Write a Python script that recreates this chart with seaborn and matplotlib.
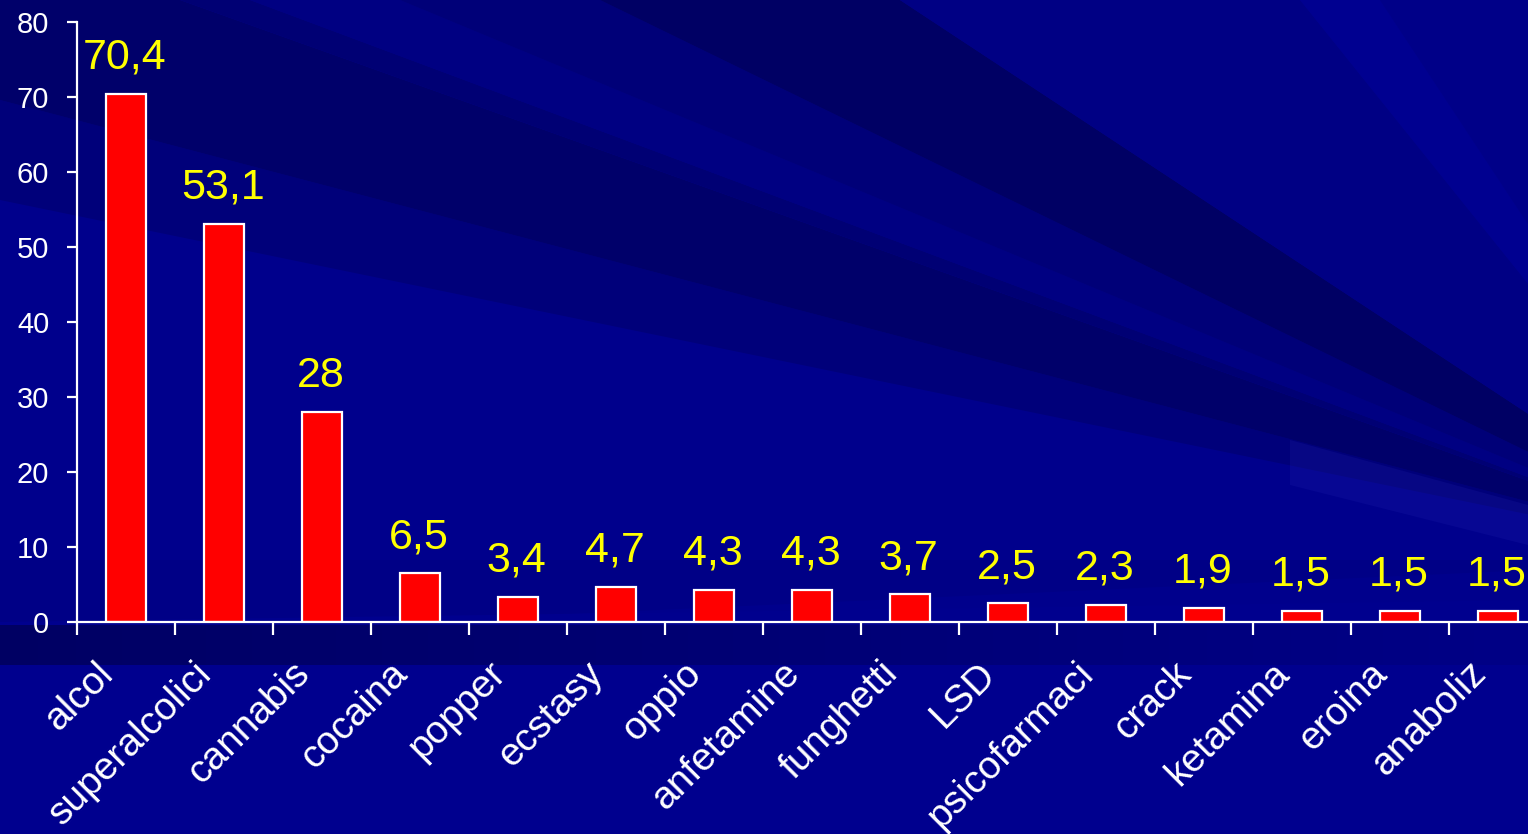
import numpy as np
import matplotlib
matplotlib.use("Agg")
import matplotlib.pyplot as plt
import matplotlib.transforms as mtransforms
from matplotlib.patches import Polygon
import seaborn as sns

# data
sostanze = ["alcol", "superalcolici", "cannabis", "cocaina", "popper", "ecstasy",
            "oppio", "anfetamine", "funghetti", "LSD", "psicofarmaci", "crack",
            "ketamina", "eroina", "anaboliz"]
valori = [70.4, 53.1, 28, 6.5, 3.4, 4.7, 4.3, 4.3, 3.7, 2.5, 2.3, 1.9, 1.5, 1.5, 1.5]
etichette = ["70,4", "53,1", "28", "6,5", "3,4", "4,7", "4,3", "4,3", "3,7",
             "2,5", "2,3", "1,9", "1,5", "1,5", "1,5"]
yticks = [0, 10, 20, 30, 40, 50, 60, 70, 80]

sns.set_style("white")
plt.rcParams["font.family"] = ["Liberation Sans", "DejaVu Sans"]

W, H = 1528, 834
fig = plt.figure(figsize=(W / 100, H / 100), dpi=100)
fig.patch.set_facecolor("#00008c")

# ---- slide background: soft rays coming from the right ----
bg = fig.add_axes([0, 0, 1, 1], zorder=0)
bg.set_xlim(0, W)
bg.set_ylim(H, 0)
bg.axis("off")
ox, oy = 1750, 560
# (border point where a band starts, colour of that band)
bande = [((0, 640), "#000086"), ((0, 560), "#00008c"), ((0, 200), "#00007a"),
         ((0, 100), "#00006a"), ((180, 0), "#000074"), ((250, 0), "#000082"),
         ((400, 0), "#000078"), ((600, 0), "#000064"), ((900, 0), "#000084"),
         ((1300, 0), "#000090"), ((1380, 0), "#000088"), ((2100, -300), None)]
R = 6000
for (p0, c), (p1, _) in zip(bande[:-1], bande[1:]):
    t0 = np.arctan2(oy - p0[1], ox - p0[0])
    t1 = np.arctan2(oy - p1[1], ox - p1[0])
    pts = [(ox, oy), (ox - R * np.cos(t0), oy - R * np.sin(t0)),
           (ox - R * np.cos(t1), oy - R * np.sin(t1))]
    bg.add_patch(Polygon(pts, color=c, lw=0))
# lower part of the slide
bg.add_patch(Polygon([(0, 622), (W, 600), (W, H), (0, H)], color="#00008e", lw=0))
grad = np.zeros((10, 200, 4))
grad[..., 2] = 0.30
grad[..., 3] = np.linspace(0.65, 0.12, 200)[None, :]
bg.imshow(grad, extent=(0, W, 665, 625), aspect="auto", zorder=2)
# faint light strip on the right
bg.add_patch(Polygon([(1290, 440), (W, 505), (W, 545), (1290, 485)],
                     color="#3030c0", alpha=0.15, lw=0, zorder=3))

# ---- chart ----
ax = fig.add_axes([77 / W, 1 - 622 / H, 1 - 77 / W, 600 / H], zorder=1)
ax.patch.set_alpha(0)
sns.barplot(x=sostanze, y=valori, color="red", saturation=1, width=0.41,
            edgecolor="white", linewidth=1.6, ax=ax)
ax.set_yticks(yticks)
ax.set_yticklabels([str(v) for v in yticks])
ax.set_xticks(np.arange(-0.5, len(sostanze)), minor=True)
ax.set_xlim(-0.5, (W - 77) / 98 - 0.5)
ax.set_ylim(0, 80)

for i, (v, t) in enumerate(zip(valori, etichette)):
    ax.annotate(t, (i, v), xytext=(-1, 18), textcoords="offset points",
                ha="center", va="baseline", color="yellow", fontsize=31)

for s in ["top", "right"]:
    ax.spines[s].set_visible(False)
for s in ["left", "bottom"]:
    ax.spines[s].set_color("white")
    ax.spines[s].set_linewidth(1.6)

ax.tick_params(axis="y", colors="white", labelsize=21, length=7, width=1.6,
               pad=13, left=True, direction="out")
ax.tick_params(axis="x", which="minor", colors="white", length=9, width=1.6,
               bottom=True, direction="out")
ax.tick_params(axis="x", which="major", length=0, pad=24, labelsize=28,
               labelcolor="white")
ax.set_xlabel("")
ax.set_ylabel("")

shift = mtransforms.ScaledTranslation(-22 / 72, 0, fig.dpi_scale_trans)
for lab in ax.get_xticklabels():
    lab.set_rotation(45)
    lab.set_ha("right")
    lab.set_va("top")
    lab.set_rotation_mode("anchor")
    lab.set_transform(lab.get_transform() + shift)

fig.savefig("out.png", dpi=100, facecolor=fig.get_facecolor())
